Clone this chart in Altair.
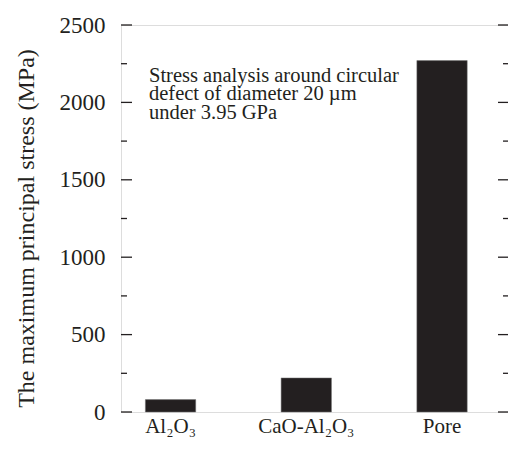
import altair as alt
import pandas as pd

categories = ["Al₂O₃", "CaO-Al₂O₃", "Pore"]
stress = [80, 220, 2270]
major_ticks = [0, 500, 1000, 1500, 2000, 2500]
minor_ticks = [250, 750, 1250, 1750, 2250]
note = ["Stress analysis around circular", "defect of diameter 20 µm", "under 3.95 GPa"]

W, H = 387, 387
FONT = "Liberation Serif"
INK = "#231f20"

bars_df = pd.DataFrame({"cat": categories, "stress": stress})
major_df = pd.DataFrame({"v": major_ticks})
minor_df = pd.DataFrame({"v": minor_ticks})

yscale = alt.Scale(domain=[0, 2500], nice=False, zero=True)

bars = alt.Chart(bars_df).mark_bar(color=INK, stroke="#777777", strokeWidth=0.5).encode(
    x=alt.X("cat:N", sort=categories,
            scale=alt.Scale(paddingInner=0.629, paddingOuter=0.24, align=0.374),
            axis=alt.Axis(title=None, labelAngle=0, ticks=False, domain=False,
                          labelFont=FONT, labelFontSize=21, labelColor=INK,
                          labelPadding=3)),
    y=alt.Y("stress:Q", scale=yscale,
            axis=alt.Axis(title="The maximum principal stress (MPa)", values=major_ticks,
                          format="d",
                          ticks=False, domain=False, grid=False,
                          labelFont=FONT, labelFontSize=23, labelColor=INK,
                          labelPadding=16,
                          titleFont=FONT, titleFontSize=24, titleFontWeight="normal",
                          titleColor=INK, titleAngle=270, titleAlign="center",
                          titleBaseline="alphabetic", titleX=-88, titleY=203)),
)

def ticks(df, x0, x1):
    return alt.Chart(df).mark_rule(color=INK, strokeWidth=1.3).encode(
        y=alt.Y("v:Q", scale=yscale),
        x=alt.value(x0), x2=alt.value(x1))

left_major = ticks(major_df, 0, 11)
left_minor = ticks(minor_df, 0, 6)
right_major = ticks(major_df, W - 10, W)
right_minor = ticks(minor_df, W - 5, W)

text = alt.Chart(pd.DataFrame({"t": [note]})).mark_text(
    align="left", baseline="alphabetic", font=FONT, fontSize=20.5, color=INK,
    lineHeight=18.3).encode(
    text="t", x=alt.value(28), y=alt.value(57))

chart = alt.layer(bars, left_major, left_minor, right_major, right_minor, text).properties(
    width=W, height=H,
    autosize=alt.AutoSizeParams(type="none"),
    padding={"left": 113, "top": 17, "right": 0, "bottom": 29},
).configure_view(stroke=INK, strokeWidth=1.3).configure(background="white", font=FONT)

chart.save("out.html", embed_options={"renderer": "svg", "actions": False})
